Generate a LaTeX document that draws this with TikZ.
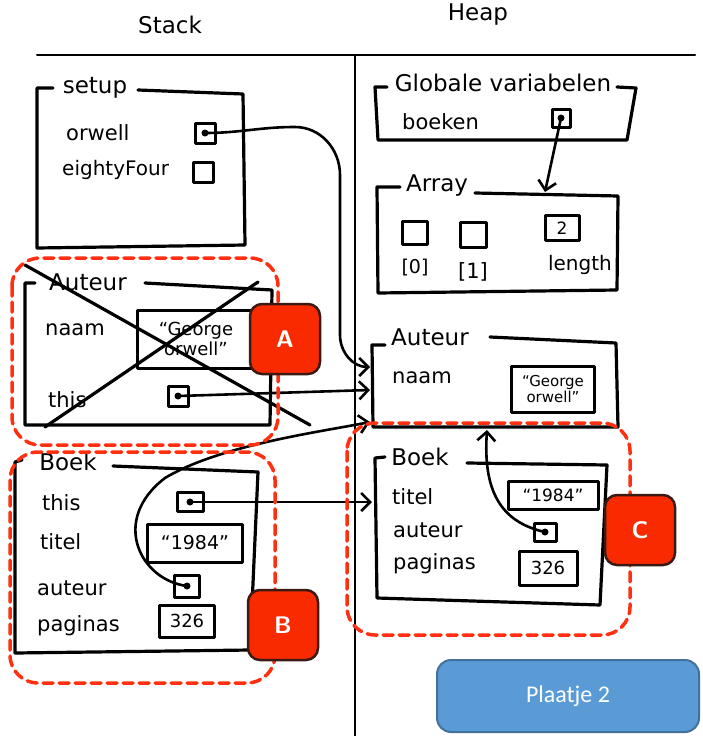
\documentclass[tikz,border=0pt]{standalone}
\usepackage{fontspec}
\setmainfont{DejaVu Sans}
\newfontfamily\hand{DejaVu Sans}
\newfontfamily\calib{Carlito}
\usetikzlibrary{arrows.meta}
\definecolor{zonered}{HTML}{FF3010}
\definecolor{badgered}{HTML}{FA2A00}
\definecolor{badgeborder}{HTML}{3A1A12}
\definecolor{plfill}{HTML}{5B9BD5}
\definecolor{plborder}{HTML}{41719C}
\begin{document}
\begin{tikzpicture}[x=1pt,y=-1pt, line cap=round, line join=round,
 frame/.style={line width=3.2pt},
 divider/.style={line width=2pt},
 ptr/.style={draw, line width=3pt, minimum width=20pt, minimum height=20pt, inner sep=0pt},
 val/.style={draw, line width=3pt, inner sep=2pt, font=\hand\fontsize{15}{16}\selectfont, align=center},
 lbl/.style={font=\hand\fontsize{21}{23}\selectfont, anchor=west, inner sep=0pt},
 ttl/.style={font=\hand\fontsize{23}{25}\selectfont, inner sep=1pt},
 conn/.style={line width=2.6pt},
 arr/.style={conn, -{Straight Barb[length=9pt,width=18pt,line width=2.6pt]}},
 dotm/.style={circle, fill, inner sep=0pt, minimum size=7pt},
 zone/.style={draw=zonered, dash pattern=on 10pt off 6pt, line width=3.5pt, rounded corners=28pt},
 badge/.style={draw=badgeborder, fill=badgered, line width=2.5pt, rounded corners=12pt, minimum width=70pt, minimum height=70pt, text=white, font=\sffamily\bfseries\fontsize{24}{26}\selectfont}
]
\useasboundingbox (0,0) rectangle (703,736);

% titles and dividers
\node[ttl] (stackT) at (170,25) {Stack};
\node[ttl] (heapT) at (478,15) {Heap};
\draw[divider] (37,55) -- (695,55);
\draw[divider] (355,55) -- (355,736);

% ---- Stack: setup
\draw[frame] (53,88) -- (37,88) -- (37,248) -- (245,245) -- (243,94) -- (138,90);
\node[ttl] (setupT) at (95,88) {setup};
\node[lbl] (orwellL) at (66,133) {orwell};
\node[ptr] (orwellbox) at (205,133) {};
\node[dotm] (orwelldot) at (205,133) {};
\node[lbl, font=\hand\fontsize{20}{22}\selectfont] (efL) at (62,170) {eightyFour};
\node[ptr] (efbox) at (203,172) {};

% ---- Stack: Auteur (crossed)
\draw[frame] (35,283) -- (25,283) -- (25,425) -- (270,425) -- (272,290) -- (145,283);
\node[ttl] (saT) at (88,282) {Auteur};
\node[lbl] (sanaamL) at (45,330) {naam};
\node[val, minimum width=118pt, minimum height=58pt, font=\hand\fontsize{18}{20}\selectfont] (saname) at (196,339) {“George\\orwell”};
\node[lbl] (sathisL) at (48,400) {this};
\node[ptr] (sathis) at (178,396) {};
\node[dotm] (sathisdot) at (178,396) {};
\draw[frame] (25,265) -- (310,425);
\draw[frame] (45,427) -- (258,282);

% ---- Stack: Boek
\draw[frame] (22,460) -- (15,462) -- (15,653) -- (250,650) -- (258,472) -- (113,466);
\node[ttl] (sbT) at (68,462) {Boek};
\node[lbl] (sbthisL) at (42,503) {this};
\node[ptr, minimum width=26pt, minimum height=19pt] (sbthis) at (190,502) {};
\node[dotm] (sbthisdot) at (190,502) {};
\node[lbl] (sbtitelL) at (40,542) {titel};
\node[val, minimum width=95pt, minimum height=38pt, font=\hand\fontsize{19}{20}\selectfont] (sb1984) at (195,543) {“1984”};
\node[lbl] (sbauteurL) at (37,588) {auteur};
\node[ptr, minimum width=25pt, minimum height=22pt] (sbauteur) at (187,586) {};
\node[dotm] (sbauteurdot) at (187,586) {};
\node[lbl] (sbpagL) at (37,626) {paginas};
\node[val, minimum width=55pt, minimum height=32pt, font=\hand\fontsize{18}{19}\selectfont] (sb326) at (187,621) {326};

% ---- Heap: Globale variabelen
\draw[frame] (387,87) -- (375,87) -- (378,140) -- (627,140) -- (636,88) -- (617,87);
\node[ttl] (gvT) at (503,83) {Globale variabelen};
\node[lbl] (boekenL) at (402,122) {boeken};
\node[ptr, minimum width=18pt, minimum height=18pt] (boekenbox) at (561,118) {};
\node[dotm] (boekendot) at (561,118) {};

% ---- Heap: Array
\draw[frame] (400,187) -- (377,187) -- (378,293) -- (617,290) -- (618,196) -- (475,193);
\node[ttl] (arrT) at (437,186) {Array};
\node[ptr, minimum width=25pt, minimum height=23pt] (a0) at (415,233) {};
\node[ptr, minimum width=26pt, minimum height=25pt] (a1) at (473,235) {};
\node[ptr, minimum width=34pt, minimum height=25pt, font=\hand\fontsize{17}{18}\selectfont] (alen) at (562,228) {2};
\node[font=\hand\fontsize{19}{20}\selectfont] (a0L) at (415,268) {[0]};
\node[font=\hand\fontsize{21}{22}\selectfont] (a1L) at (473,272) {[1]};
\node[font=\hand\fontsize{20}{22}\selectfont] (alenL) at (580,265) {length};
\coordinate (arrtop) at (545,192);

% ---- Heap: Auteur
\draw[frame] (385,345) -- (372,345) -- (373,427) -- (618,427) -- (616,343) -- (490,337);
\node[ttl] (haT) at (430,337) {Auteur};
\node[lbl] (hanaamL) at (392,378) {naam};
\node[val, minimum width=83pt, minimum height=46pt] (haname) at (553,389) {“George\\orwell”};
\coordinate (haIn1) at (370,367);
\coordinate (haIn2) at (370,390);
\coordinate (haIn3) at (370,422);
\coordinate (haBot) at (487,430);

% ---- Heap: Boek
\draw[frame] (385,457) -- (375,458) -- (377,598) -- (600,605) -- (607,465) -- (467,463);
\node[ttl] (hbT) at (420,457) {Boek};
\node[lbl] (hbtitelL) at (392,497) {titel};
\node[val, minimum width=90pt, minimum height=28pt, font=\hand\fontsize{17}{18}\selectfont] (hb1984) at (553,495) {“1984”};
\node[lbl] (hbauteurL) at (393,530) {auteur};
\node[ptr, minimum width=22pt, minimum height=18pt] (hbauteur) at (545,532) {};
\node[dotm] (hbauteurdot) at (545,532) {};
\node[lbl] (hbpagL) at (393,564) {paginas};
\node[val, minimum width=58pt, minimum height=34pt, font=\hand\fontsize{18}{19}\selectfont] (hb326) at (548,568) {326};
\coordinate (hbIn) at (372,502);

% ---- connectors
\draw[arr] (orwelldot.center) to[out=0,in=180] (295,127) to[out=0,in=90] (340,175) -- (340,335) to[out=-90,in=180] (haIn1);
\draw[arr] (sathisdot.center) -- (haIn2);
\draw[arr] (sbthisdot.center) -- (hbIn);
\draw[arr] (sbauteurdot.center) .. controls (140,580) and (110,520) .. (165,478) .. controls (220,445) and (320,432) .. (haIn3);
\draw[arr] (boekendot.center) -- (arrtop);
\draw[arr] (hbauteurdot.center) .. controls (500,522) and (483,490) .. (haBot);

% ---- red zones and badges
\draw[zone] (12,258) rectangle (278,445);
\draw[zone] (10,452) rectangle (275,683);
\draw[zone] (347,423) rectangle (630,635);
\node[badge] (badgeA) at (285,339) {A};
\node[badge] (badgeB) at (283,625) {B};
\node[badge] (badgeC) at (640,530) {C};

% ---- Plaatje 2
\node[draw=plborder, fill=plfill, line width=2pt, rounded corners=14pt, minimum width=262pt, minimum height=72pt, text=white, font=\calib\fontsize{24}{26}\selectfont] (plaatje) at (568,696) {Plaatje 2};
\end{tikzpicture}
\end{document}
